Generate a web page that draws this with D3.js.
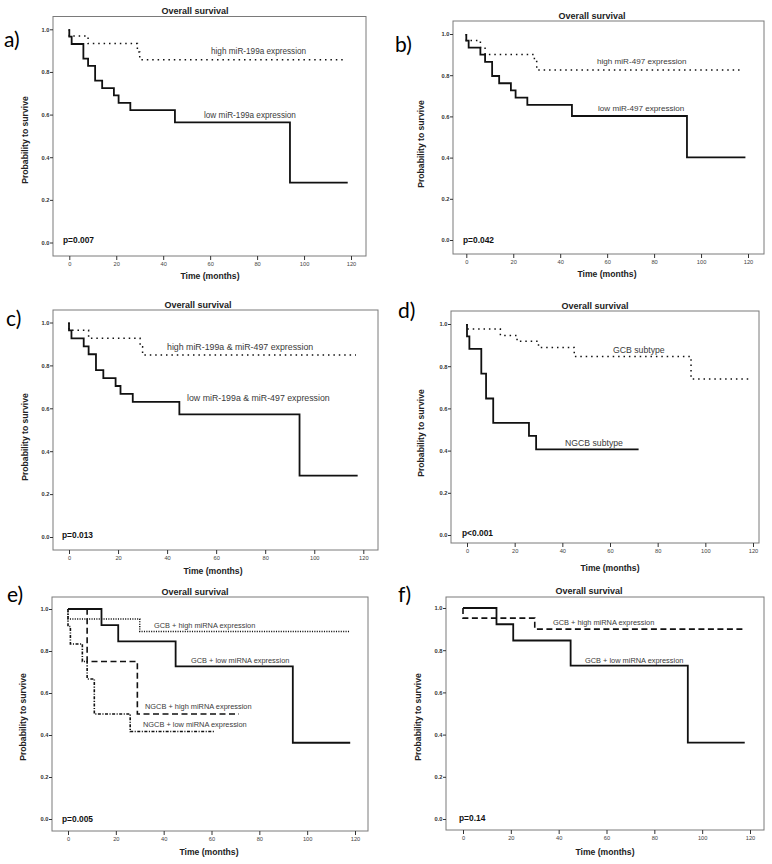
<!DOCTYPE html>
<html><head><meta charset="utf-8">
<script src="https://cdn.jsdelivr.net/npm/d3@7"></script>
<style>body{margin:0;background:#fff}svg{display:block}</style>
</head><body>
<svg id="chart" width="772" height="864"></svg>
<script>
// ---------- data ----------
const timeTicks = [0, 20, 40, 60, 80, 100, 120];
const probTicks = [0, 0.2, 0.4, 0.6, 0.8, 1.0];
const panelLetters = ["a)", "b)", "c)", "d)", "e)", "f)"];
const pValues = ["p=0.007", "p=0.042", "p=0.013", "p<0.001", "p=0.005", "p=0.14"];
const titleText = "Overall survival";

// panel a
const aLowTime  = [0, 0, 1, 6, 8, 11, 14, 19, 21, 26, 45, 94, 118.6];
const aLowSurv  = [1, 0.966, 0.931, 0.862, 0.828, 0.759, 0.724, 0.690, 0.655, 0.621, 0.563, 0.281, 0.281];
const aHighTime = [0, 0, 8, 29, 30, 116.8];
const aHighSurv = [1, 0.968, 0.933, 0.893, 0.857, 0.857];
// panel b
const bLowTime  = [0, 0, 1, 6, 8, 11, 14, 19, 21, 26, 45, 94, 118.9];
const bLowSurv  = [1, 0.968, 0.934, 0.900, 0.865, 0.796, 0.761, 0.726, 0.691, 0.656, 0.602, 0.401, 0.401];
const bHighTime = [0, 0, 6, 8, 29, 30, 118];
const bHighSurv = [1, 0.968, 0.934, 0.900, 0.866, 0.825, 0.825];
// panel c
const cLowTime  = [0, 0, 1, 6, 8, 11, 14, 19, 21, 26, 45, 94, 117.7];
const cLowSurv  = [1, 0.963, 0.926, 0.889, 0.852, 0.778, 0.741, 0.704, 0.667, 0.630, 0.572, 0.286, 0.286];
const cHighTime = [0, 0, 8, 29, 30, 117];
const cHighSurv = [1, 0.964, 0.926, 0.887, 0.848, 0.848];
// panel d
const dNgcbTime = [0, 0, 1, 6, 8, 11, 26, 29, 72];
const dNgcbSurv = [1, 0.941, 0.882, 0.765, 0.647, 0.531, 0.470, 0.406, 0.406];
const dGcbTime  = [0, 0, 14, 21, 30, 45, 94, 118.6];
const dGcbSurv  = [1, 0.976, 0.946, 0.918, 0.889, 0.846, 0.739, 0.739];
// panel e
const eGcbLowTime   = [0, 14, 21, 45, 94, 118];
const eGcbLowSurv   = [1, 0.923, 0.846, 0.727, 0.363, 0.363];
const eGcbHighTime  = [0, 0, 30, 118];
const eGcbHighSurv  = [1, 0.952, 0.893, 0.893];
const eNgcbHighTime = [0, 8, 29, 71.5];
const eNgcbHighSurv = [1, 0.75, 0.5, 0.5];
const eNgcbLowTime  = [0, 0, 1, 6, 8, 11, 26, 61];
const eNgcbLowSurv  = [1, 0.917, 0.833, 0.75, 0.667, 0.5, 0.417, 0.417];
// panel f
const fGcbLowTime  = [0, 14, 21, 45, 94, 117.8];
const fGcbLowSurv  = [1, 0.923, 0.846, 0.727, 0.362, 0.362];
const fGcbHighTime = [0, 0, 30, 117.2];
const fGcbHighSurv = [1, 0.952, 0.9, 0.9];

// ---------- styles ----------
const styles = {
  solid:      {w: 1.8, dash: null},
  dotted:     {w: 1.5, dash: "1.5,3.9"},
  fineDotted: {w: 1.5, dash: "1.1,1.3"},
  dashed:     {w: 1.6, dash: "6,3.5"},
  dashDot:    {w: 1.6, dash: "3,1.5,1.1,1.5"}
};

// ---------- layout ----------
const panels = [
  {l:53, r:366, t:16.5, b:256, x0:69.3, x120:351, y1:29.3, y0:242.5, fs:8.2,
   title:[195,14], letter:[4,47], ylab:[25,140], xlab:[210,279], p:[63,243],
   series:[
     {time:aHighTime, surv:aHighSurv, style:"dotted", label:"high miR-199a expression", lp:[211,54]},
     {time:aLowTime, surv:aLowSurv, style:"solid", label:"low miR-199a expression", lp:[204,118]}
   ]},
  {l:453, r:764, t:21, b:254, x0:466.3, x120:748, y1:34, y0:240, fs:8.1,
   title:[592,18.5], letter:[395,52], ylab:[421,144], xlab:[607,277], p:[463,243],
   series:[
     {time:bHighTime, surv:bHighSurv, style:"dotted", label:"high miR-497 expression", lp:[597,64]},
     {time:bLowTime, surv:bLowSurv, style:"solid", label:"low miR-497 expression", lp:[598,111]}
   ]},
  {l:53, r:378, t:310, b:550, x0:69, x120:363.3, y1:322.5, y0:537, fs:8.8,
   title:[198,307.5], letter:[6,326], ylab:[25,437], xlab:[213,574], p:[62,538],
   series:[
     {time:cHighTime, surv:cHighSurv, style:"dotted", label:"high miR-199a & miR-497 expression", lp:[167,350]},
     {time:cLowTime, surv:cLowSurv, style:"solid", label:"low miR-199a & miR-497 expression", lp:[187,401]}
   ]},
  {l:451, r:759, t:311, b:543, x0:467, x120:753, y1:324, y0:535, fs:8.7,
   title:[595,308.5], letter:[398,318], ylab:[421,433], xlab:[610,571], p:[462,536],
   series:[
     {time:dGcbTime, surv:dGcbSurv, style:"dotted", label:"GCB subtype", lp:[613,353]},
     {time:dNgcbTime, surv:dNgcbSurv, style:"solid", label:"NGCB subtype", lp:[565,446]}
   ]},
  {l:52, r:368, t:597, b:831, x0:68, x120:355, y1:609, y0:819, fs:7.4,
   title:[195,594.5], letter:[7,602], ylab:[23,717], xlab:[209,855], p:[62,822],
   series:[
     {time:eNgcbLowTime, surv:eNgcbLowSurv, style:"dashDot", label:"NGCB + low miRNA expression", lp:[143,727]},
     {time:eNgcbHighTime, surv:eNgcbHighSurv, style:"dashed", label:"NGCB + high miRNA expression", lp:[145,709]},
     {time:eGcbHighTime, surv:eGcbHighSurv, style:"fineDotted", label:"GCB + high miRNA expression", lp:[154,628]},
     {time:eGcbLowTime, surv:eGcbLowSurv, style:"solid", label:"GCB + low miRNA expression", lp:[191,663]}
   ]},
  {l:446, r:764, t:597, b:830, x0:463, x120:750, y1:608, y0:819, fs:7.4,
   title:[589,593.5], letter:[398,602], ylab:[418,717], xlab:[605,855], p:[459,821],
   series:[
     {time:fGcbHighTime, surv:fGcbHighSurv, style:"dashed", label:"GCB + high miRNA expression", lp:[553,625]},
     {time:fGcbLowTime, surv:fGcbLowSurv, style:"solid", label:"GCB + low miRNA expression", lp:[585,663]}
   ]}
];

const FONT = "'Liberation Sans', Arial, sans-serif";
const svg = d3.select("#chart");
svg.append("rect").attr("width",772).attr("height",864).attr("fill","#fff");

panels.forEach((p, i) => {
  const g = svg.append("g");
  const x = d3.scaleLinear().domain([0,120]).range([p.x0, p.x120]);
  const y = d3.scaleLinear().domain([0,1]).range([p.y0, p.y1]);

  // frame
  g.append("rect").attr("x", p.l).attr("y", p.t)
    .attr("width", p.r - p.l).attr("height", p.b - p.t)
    .attr("fill","none").attr("stroke","#7a7a7a").attr("stroke-width",1);

  // axes
  const ya = g.append("g").attr("transform", `translate(${p.l},0)`)
    .call(d3.axisLeft(y).tickValues(probTicks).tickFormat(d3.format(".1f")).tickSize(3).tickPadding(0.5));
  ya.select(".domain").remove();
  ya.selectAll("line").attr("stroke","#333");
  ya.selectAll("text").attr("font-family",FONT).attr("font-size",5.7).attr("font-weight","bold").attr("fill","#333");

  const xa = g.append("g").attr("transform", `translate(0,${p.b})`)
    .call(d3.axisBottom(x).tickValues(timeTicks).tickFormat(d3.format("d")).tickSize(4).tickPadding(1.5));
  xa.select(".domain").remove();
  xa.selectAll("line").attr("stroke","#333");
  xa.selectAll("text").attr("font-family",FONT).attr("font-size",5.7).attr("fill","#444");

  // curves
  const line = d3.line().x(d => x(d[0])).y(d => y(d[1])).curve(d3.curveStepAfter);
  p.series.forEach(s => {
    const st = styles[s.style];
    g.append("path")
      .datum(s.time.map((t, k) => [t, s.surv[k]]))
      .attr("d", line)
      .attr("fill","none").attr("stroke","#111")
      .attr("stroke-width", st.w)
      .attr("stroke-dasharray", st.dash);
  });
  p.series.forEach(s => {
    g.append("text").attr("x", s.lp[0]).attr("y", s.lp[1])
      .attr("font-family",FONT).attr("font-size",p.fs).attr("fill","#3a3a3a")
      .text(s.label);
  });

  // texts
  g.append("text").attr("x", p.title[0]).attr("y", p.title[1]).attr("text-anchor","middle")
    .attr("font-family",FONT).attr("font-size",9).attr("font-weight","bold").attr("fill","#222")
    .text(titleText);
  g.append("text").attr("x", p.xlab[0]).attr("y", p.xlab[1]).attr("text-anchor","middle")
    .attr("font-family",FONT).attr("font-size",8.6).attr("font-weight","bold").attr("fill","#222")
    .text("Time (months)");
  g.append("text").attr("transform", `translate(${p.ylab[0]},${p.ylab[1]}) rotate(-90)`)
    .attr("text-anchor","middle").attr("dy","0.35em")
    .attr("font-family",FONT).attr("font-size",8.6).attr("font-weight","bold").attr("fill","#222")
    .text("Probability to survive");
  g.append("text").attr("x", p.p[0]).attr("y", p.p[1])
    .attr("font-family",FONT).attr("font-size",8.4).attr("font-weight","bold").attr("fill","#111")
    .text(pValues[i]);
  g.append("text").attr("x", p.letter[0]).attr("y", p.letter[1])
    .attr("font-family","Lato, 'Open Sans', sans-serif").attr("font-size",21).attr("fill","#000")
    .text(panelLetters[i]);
});
</script>
</body></html>
